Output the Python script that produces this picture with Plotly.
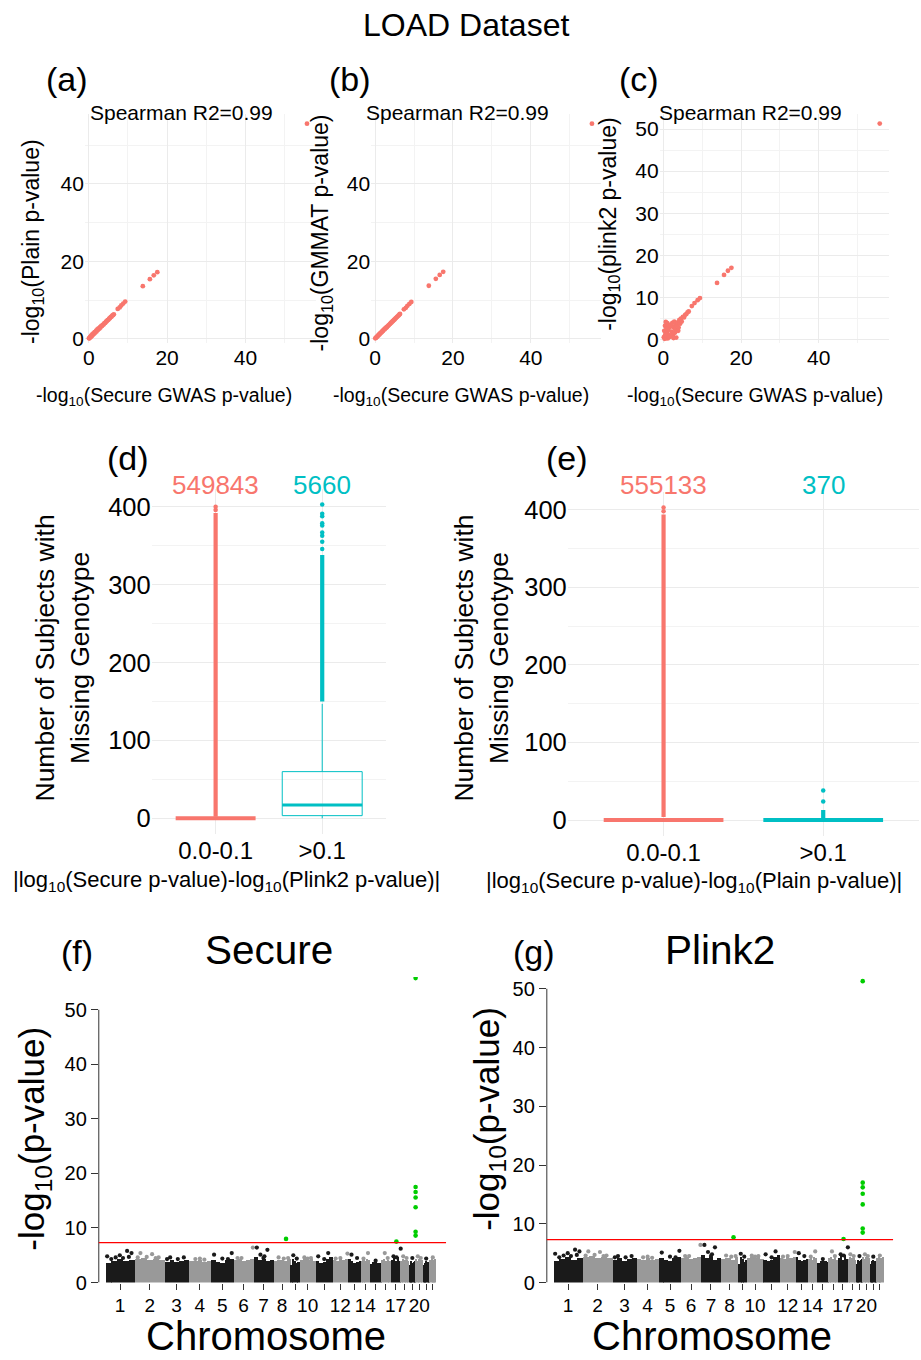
import numpy as np
import plotly.graph_objects as go

W, H = 921, 1360
FONT = "Liberation Sans"
RED = "#F8766D"
CYAN = "#00BFC4"
BLACKPT = "#1A1A1A"
GRAYPT = "#999999"
GREEN = "#00CD00"


def fx(px):
    return px / W


def fy(py):
    return 1 - py / H


# ---------------- (a)-(c) scatter data ----------------
secure_ab = [0.05, 0.2, 0.35, 0.5, 0.6, 0.8, 0.9, 1.1, 1.2, 1.4, 1.5, 1.7, 1.9, 2.0, 2.2, 2.4,
             2.5, 2.7, 2.9, 3.0, 3.2, 3.4, 3.6, 3.8, 4.0, 4.2, 4.4, 4.6, 4.8, 5.0, 5.2, 5.4,
             5.6, 5.8, 6.0, 6.2, 6.4, 7.4, 7.9, 8.3, 8.8, 9.3, 13.8, 15.6, 16.6, 17.5, 55.7]
plain_a = [0.1, 0.1, 0.5, 0.4, 0.8, 0.7, 1.1, 1.0, 1.4, 1.3, 1.7, 1.6, 2.1, 1.9, 2.4, 2.3,
           2.7, 2.6, 3.0, 2.9, 3.3, 3.3, 3.6, 3.7, 4.0, 4.1, 4.4, 4.5, 4.8, 4.9, 5.2, 5.3,
           5.6, 5.7, 6.0, 6.1, 6.3, 7.7, 8.1, 8.6, 9.1, 9.6, 13.6, 15.4, 16.4, 17.2, 55.6]
gmmat_b = [0.1, 0.2, 0.4, 0.5, 0.7, 0.8, 1.0, 1.1, 1.3, 1.4, 1.6, 1.7, 2.0, 2.0, 2.3, 2.4,
           2.6, 2.7, 2.9, 3.0, 3.2, 3.4, 3.6, 3.8, 4.0, 4.2, 4.4, 4.6, 4.8, 5.0, 5.2, 5.4,
           5.6, 5.8, 6.0, 6.2, 6.4, 7.6, 8.0, 8.5, 9.0, 9.5, 13.7, 15.5, 16.5, 17.3, 55.6]
secure_c = [0.1, 0.2, 0.3, 0.4, 0.5, 0.6, 0.7, 0.8, 0.9, 1.0, 1.1, 1.2, 1.3, 1.5, 1.6, 1.8,
            2.0, 2.1, 2.3, 2.5, 2.6, 2.8, 3.0, 3.2, 3.3, 3.5, 3.7, 3.9, 4.1, 4.3, 4.5, 4.7,
            5.0, 5.3, 5.6, 5.9, 6.2, 6.5, 0.6, 1.4, 2.2, 3.0, 3.8, 1.0, 2.6,
            7.3, 8.0, 8.8, 9.4, 13.8, 15.6, 16.6, 17.5, 55.7]
plink2_c = [0.5, 2.0, 0.1, 3.2, 1.2, 4.1, 0.3, 2.6, 1.6, 3.8, 0.2, 2.2, 3.4, 1.0, 2.8, 0.6,
            3.5, 1.8, 3.9, 1.2, 2.9, 4.2, 2.4, 3.6, 0.4, 3.3, 4.0, 2.8, 4.6, 3.7, 4.9, 4.2,
            5.3, 5.2, 5.8, 6.0, 6.4, 6.6, 1.0, 0.5, 0.8, 1.6, 2.0, 2.4, 0.3,
            7.9, 8.6, 9.3, 9.8, 13.4, 15.3, 16.3, 17.0, 51.3]
spearman_text = ["Spearman R2=0.99", "Spearman R2=0.99", "Spearman R2=0.99"]

# ---------------- (d)-(e) box data ----------------
categories = ["0.0-0.1", ">0.1"]
cat_pos = [1, 2]
box_width = 0.75
counts_d = [549843, 5660]
q1_d = [0, 3.5]
med_d = [0, 17]
q3_d = [0, 60]
lofence_d = [0, 0]
upfence_d = [0, 147]
dense_lo_d = [2, 150]
dense_hi_d = [392, 338]
sparse_d = [[396, 400], [346, 355, 363, 367, 376, 379, 388, 391, 403]]

counts_e = [555133, 370]
q1_e = [0, 0]
med_e = [0, 0]
q3_e = [0, 0]
lofence_e = [0, 0]
upfence_e = [0, 0]
dense_lo_e = [4, 1]
dense_hi_e = [394, 13]
sparse_e = [[398, 403], [24, 38]]

# ---------------- (f)-(g) Manhattan data ----------------
chrom = list(range(1, 23))
chrom_len = [256, 261, 209, 197, 195, 174, 174, 151, 76, 144, 145, 137, 110, 78, 102, 78,
             90, 73, 57, 64, 57, 58]
# upper envelope of the dense SNP cloud, 5 segments per chromosome
band_seg_top = [
    [3.6, 4.0, 4.3, 3.9, 4.2], [4.3, 4.5, 4.2, 4.4, 4.1], [3.8, 4.1, 3.7, 4.0, 4.2],
    [4.0, 3.9, 4.1, 3.8, 4.0], [4.2, 3.8, 3.6, 4.1, 4.4], [4.1, 4.3, 4.0, 4.2, 4.4],
    [4.6, 4.2, 4.4, 3.9, 4.1], [4.0, 4.2, 4.1, 3.9, 4.3], [3.2, 4.4, 4.0, 3.5, 3.8],
    [4.2, 4.4, 4.1, 4.3, 4.0], [3.9, 3.6, 3.8, 4.3, 4.6], [4.2, 4.0, 4.3, 4.1, 4.4],
    [4.3, 3.9, 3.6, 3.8, 4.0], [4.0, 4.2, 3.9, 4.4, 4.1], [3.4, 3.7, 3.8, 3.6, 3.5],
    [4.1, 4.4, 4.0, 4.2, 3.9], [4.2, 4.5, 3.9, 4.6, 4.0], [4.0, 4.3, 4.1, 4.2, 3.9],
    [3.2, 3.9, 3.6, 3.8, 4.0], [4.3, 4.0, 4.4, 4.1, 4.2], [3.2, 3.6, 3.9, 3.7, 3.4],
    [4.1, 4.3, 4.0, 4.2, 4.4]]
labeled_chrom = [1, 2, 3, 4, 5, 6, 7, 8, 10, 12, 14, 17, 20]
peak_chr = [1, 1, 1, 1, 1, 1, 1, 1, 2, 2, 2, 2, 2, 2, 3, 3, 3, 3, 4, 4, 4, 5, 5, 5, 5, 6, 6, 6,
            7, 7, 7, 7, 7, 8, 8, 8, 9, 9, 10, 10, 10, 11, 11, 11, 12, 12, 12, 13, 13, 14, 14,
            15, 16, 16, 17, 17, 17, 18, 18, 19, 20, 20, 21, 22]
peak_frac = [0.06, 0.2, 0.35, 0.49, 0.60, 0.74, 0.80, 0.89, 0.1, 0.19, 0.40, 0.58, 0.7, 0.80,
             0.1, 0.23, 0.55, 0.80, 0.3, 0.5, 0.7, 0.13, 0.5, 0.75, 0.92, 0.2, 0.4, 0.97,
             0.17, 0.35, 0.5, 0.55, 0.70, 0.3, 0.6, 0.85, 0.3, 0.7, 0.3, 0.5, 0.7, 0.14, 0.5,
             0.74, 0.2, 0.5, 0.95, 0.26, 0.7, 0.3, 0.8, 0.5, 0.37, 0.7, 0.3, 0.6, 1.0, 0.3,
             0.7, 0.5, 0.3, 0.7, 0.5, 0.5]
peak_secure = [4.8, 4.3, 4.6, 5.0, 4.5, 5.8, 4.7, 5.4, 4.6, 5.4, 4.7, 5.2, 4.5, 4.6, 4.3, 4.6,
               4.3, 4.6, 4.3, 4.4, 4.2, 5.1, 4.4, 4.3, 5.4, 4.5, 4.5, 6.4, 6.4, 5.1, 4.5, 4.8,
               6.0, 4.6, 4.4, 4.5, 5.0, 4.4, 4.6, 4.4, 4.5, 4.8, 4.3, 5.4, 4.4, 4.5, 5.3, 5.1,
               4.5, 4.4, 5.4, 4.0, 5.4, 4.5, 4.8, 4.6, 6.2, 4.8, 4.5, 4.5, 4.8, 4.5, 4.4, 4.6]
peak_plink2 = [4.9, 4.3, 4.6, 5.0, 4.5, 5.6, 4.7, 5.3, 4.6, 5.3, 4.7, 5.2, 4.5, 4.6, 4.3, 4.5,
               4.3, 4.5, 4.3, 4.4, 4.2, 5.1, 4.4, 4.3, 5.4, 4.5, 4.5, 6.4, 6.4, 5.2, 4.5, 4.8,
               6.0, 4.6, 4.4, 4.5, 4.9, 4.4, 4.6, 4.4, 4.5, 4.8, 4.3, 5.3, 4.4, 4.5, 5.2, 5.0,
               4.5, 4.4, 5.3, 4.0, 5.3, 4.5, 4.8, 4.6, 6.0, 4.8, 4.5, 4.5, 4.8, 4.5, 4.4, 4.6]
hl_chr = [8, 17, 19, 19, 19, 19, 19, 19, 19]
hl_frac = [0.73, 0.58, 1.0, 1.0, 1.0, 1.0, 1.0, 1.0, 1.0]
hl_secure = [8.0, 7.5, 55.8, 17.5, 16.6, 15.6, 13.8, 9.3, 8.6]
hl_plink2 = [7.7, 7.4, 51.3, 17.0, 16.2, 15.1, 13.3, 9.2, 8.5]
genomewide_line = 7.3
manh_yticks = [0, 10, 20, 30, 40, 50]

fig = go.Figure()

# ---- scatter panels
sc_data = [(secure_ab, plain_a), (secure_ab, gmmat_b), (secure_c, plink2_c)]
for i, (xs, ys) in enumerate(sc_data):
    n = "" if i == 0 else str(i + 1)
    fig.add_trace(go.Scatter(x=xs, y=ys, mode="markers",
                             marker=dict(color=RED, size=4.8, line=dict(width=0)),
                             xaxis="x" + n, yaxis="y" + n, showlegend=False))


# ---- box panels
def add_box_panel(n, q1, med, q3, lo, hi, dlo, dhi, sparse, flat_width):
    cols = [RED, CYAN]
    for k in range(2):
        flat = q1[k] == q3[k]
        fig.add_trace(go.Box(x=[cat_pos[k]], q1=[q1[k]], median=[med[k]], q3=[q3[k]],
                             lowerfence=[lo[k]], upperfence=[hi[k]], width=box_width,
                             whiskerwidth=0, boxpoints=False,
                             line=dict(color=cols[k], width=flat_width if flat else 1),
                             fillcolor="rgba(255,255,255,0)",
                             xaxis="x" + n, yaxis="y" + n, showlegend=False))
        if not flat:
            fig.add_trace(go.Scatter(x=[cat_pos[k] - box_width / 2, cat_pos[k] + box_width / 2],
                                     y=[med[k], med[k]], mode="lines",
                                     line=dict(color=cols[k], width=3),
                                     xaxis="x" + n, yaxis="y" + n, showlegend=False))
        fig.add_trace(go.Scatter(x=[cat_pos[k], cat_pos[k]], y=[dlo[k], dhi[k]], mode="lines",
                                 line=dict(color=cols[k], width=4.2),
                                 xaxis="x" + n, yaxis="y" + n, showlegend=False))
        fig.add_trace(go.Scatter(x=[cat_pos[k]] * len(sparse[k]), y=sparse[k], mode="markers",
                                 marker=dict(color=cols[k], size=4.5),
                                 xaxis="x" + n, yaxis="y" + n, showlegend=False))


add_box_panel("4", q1_d, med_d, q3_d, lofence_d, upfence_d, dense_lo_d, dense_hi_d, sparse_d, 4)
add_box_panel("5", q1_e, med_e, q3_e, lofence_e, upfence_e, dense_lo_e, dense_hi_e, sparse_e, 4)

# ---- Manhattan panels
lens = np.array(chrom_len, dtype=float)
starts = np.concatenate([[0.0], np.cumsum(lens)[:-1]])
centers = starts + lens / 2
total = lens.sum()
band_cols = [BLACKPT if c % 2 == 1 else GRAYPT for c in chrom]

seg_x, seg_w, seg_y, seg_c = [], [], [], []
for ci in range(len(chrom)):
    nseg = len(band_seg_top[ci])
    w = lens[ci] / nseg
    for si, h in enumerate(band_seg_top[ci]):
        seg_x.append(starts[ci] + (si + 0.5) * w)
        seg_w.append(w * 1.01)
        seg_y.append(h)
        seg_c.append(band_cols[ci])

pk_idx = np.array(peak_chr) - 1
pk_x = starts[pk_idx] + np.array(peak_frac) * lens[pk_idx]
pk_cols = [band_cols[i] for i in pk_idx]
hl_idx = np.array(hl_chr) - 1
hl_x = starts[hl_idx] + np.array(hl_frac) * lens[hl_idx]
lab_centers = [centers[c - 1] for c in labeled_chrom]
lab_text = [str(c) for c in labeled_chrom]

for n, pvals, hvals in [("6", peak_secure, hl_secure), ("7", peak_plink2, hl_plink2)]:
    fig.add_trace(go.Bar(x=seg_x, y=seg_y, width=seg_w, marker=dict(color=seg_c, line=dict(width=0)),
                         xaxis="x" + n, yaxis="y" + n, showlegend=False))
    fig.add_trace(go.Scatter(x=pk_x, y=pvals, mode="markers",
                             marker=dict(color=pk_cols, size=4.2, line=dict(width=0)),
                             xaxis="x" + n, yaxis="y" + n, showlegend=False))
    fig.add_trace(go.Scatter(x=hl_x, y=hvals, mode="markers",
                             marker=dict(color=GREEN, size=4.6, line=dict(width=0)),
                             xaxis="x" + n, yaxis="y" + n, showlegend=False))

# ---------------- layout ----------------
lay = dict(width=W, height=H, autosize=False, margin=dict(l=0, r=0, t=0, b=0), paper_bgcolor="white",
           plot_bgcolor="white", showlegend=False, font=dict(family=FONT, color="black"))

GRID = "#EBEBEB"
MINOR = "#F3F3F3"
tf_sc = dict(family=FONT, size=21, color="black")


def gg_axis(dom, rng, dtick, mdtick, anchor, tf, **kw):
    d = dict(domain=dom, range=rng, dtick=dtick, tick0=0, showgrid=True, gridcolor=GRID,
             gridwidth=1, zeroline=False, showline=False, ticks="", tickfont=tf, anchor=anchor,
             fixedrange=True)
    if mdtick:
        d["minor"] = dict(dtick=mdtick, tick0=0, showgrid=True, gridcolor=MINOR, gridwidth=1)
    d.update(kw)
    return d


sc_xdom = [(83, 314.7), (370, 600.2), (659, 888.6)]
sc_xrng = [[-1, 58], [-1, 58], [-1, 58]]
sc_yrng = [[-1, 58], [-1, 58], [-0.8, 53.5]]
sc_ydt = [20, 20, 10]
for i in range(3):
    n = "" if i == 0 else str(i + 1)
    lay["xaxis" + n] = gg_axis([fx(sc_xdom[i][0]), fx(sc_xdom[i][1])], sc_xrng[i], 20, 10,
                               "y" + n, tf_sc)
    lay["yaxis" + n] = gg_axis([fy(345.4), fy(115.3)], sc_yrng[i], sc_ydt[i], sc_ydt[i] / 2,
                               "x" + n, tf_sc)

tf_boxx = dict(family=FONT, size=24, color="black")
tf_boxy = dict(family=FONT, size=25.5, color="black")
lay["xaxis4"] = gg_axis([fx(150), fx(385)], [0.4, 2.6], None, None, "y4", tf_boxx,
                        tickmode="array", tickvals=cat_pos, ticktext=categories)
lay["yaxis4"] = gg_axis([fy(840.9), fy(492.9)], [-20.2, 423], 100, 50, "x4", tf_boxy)
lay["xaxis5"] = gg_axis([fx(567), fx(919)], [0.4, 2.6], None, None, "y5", tf_boxx,
                        tickmode="array", tickvals=cat_pos, ticktext=categories)
lay["yaxis5"] = gg_axis([fy(842.5), fy(495.9)], [-20.2, 423], 100, 50, "x5", tf_boxy)

tf_manx = dict(family=FONT, size=19, color="black")
tf_many = dict(family=FONT, size=20, color="black")
xr = [-0.02 * total, 1.03 * total]
man_xdom = [(97, 445), (546, 893)]
man_ytop = [np.ceil(max(hl_secure)), np.ceil(max(hl_plink2))]
for j, n in enumerate(["6", "7"]):
    lay["xaxis" + n] = dict(domain=[fx(man_xdom[j][0]), fx(man_xdom[j][1])], range=xr, anchor="y" + n,
                            showgrid=False, zeroline=False, showline=False, ticks="outside",
                            ticklen=6, tickcolor="#333333", tickwidth=1, tickmode="array",
                            tickvals=lab_centers, ticktext=lab_text, tickangle=0, tickfont=tf_manx,
                            minor=dict(tickmode="array", tickvals=list(centers), ticks="outside",
                                       ticklen=6, tickcolor="#333333", tickwidth=1, showgrid=False),
                            fixedrange=True)
    lay["yaxis" + n] = dict(domain=[fy(1293), fy(985)], range=[0, man_ytop[j]], anchor="x" + n,
                            showgrid=False, zeroline=False, showline=False, ticks="outside",
                            ticklen=7, tickcolor="#333333", tickwidth=1, tickmode="array",
                            tickvals=manh_yticks, tickfont=tf_many, fixedrange=True)
fig.update_layout(**lay)
fig.update_layout(barmode="overlay", bargap=0)

shapes = []
for n in ["6", "7"]:
    shapes.append(dict(type="line", xref="x" + n + " domain", yref="y" + n, x0=0, x1=0,
                       y0=min(manh_yticks), y1=max(manh_yticks), line=dict(color="#333333", width=1)))
    shapes.append(dict(type="line", xref="x" + n + " domain", yref="y" + n, x0=0, x1=1,
                       y0=genomewide_line, y1=genomewide_line, line=dict(color="#FF0000", width=1.2)))
fig.update_layout(shapes=shapes)

ann = []


def text(px, py, s, size, angle=0, color="black", xref="paper", xval=None):
    ann.append(dict(x=fx(px) if xval is None else xval, y=fy(py), xref=xref, yref="paper", text=s,
                    showarrow=False, textangle=angle, xanchor="center", yanchor="middle",
                    font=dict(family=FONT, size=size, color=color)))


text(465, 25, "LOAD Dataset", 32)
for lbl, x in [("(a)", 65), ("(b)", 349), ("(c)", 638)]:
    text(x, 80, lbl, 34)
for x, s in zip([180, 456, 750], spearman_text):
    text(x, 113, s, 21)
for x in [162, 460, 755]:
    text(x, 400, "-log<sub>10</sub>(Secure GWAS p-value)", 19.5)
text(30, 243, "-log<sub>10</sub>(Plain p-value)", 23, -90)
text(320, 235, "-log<sub>10</sub>(GMMAT p-value)", 23, -90)
text(608, 226, "-log<sub>10</sub>(plink2 p-value)", 23, -90)

text(126, 462, "(d)", 34)
text(566, 462, "(e)", 34)
cols2 = [RED, CYAN]
for k in range(2):
    text(0, 489, str(counts_d[k]), 26, color=cols2[k], xref="x4", xval=cat_pos[k])
    text(0, 489, str(counts_e[k]), 26, color=cols2[k], xref="x5", xval=cat_pos[k])
text(60, 663, "Number of Subjects with<br>Missing Genotype", 26.5, -90)
text(480, 663, "Number of Subjects with<br>Missing Genotype", 26.5, -90)
text(225, 888, "|log<sub>10</sub>(Secure p-value)-log<sub>10</sub>(Plink2 p-value)|", 22)
text(694, 889, "|log<sub>10</sub>(Secure p-value)-log<sub>10</sub>(Plain p-value)|", 22)

text(75, 960, "(f)", 34)
text(533, 960, "(g)", 34)
text(268, 958, "Secure", 40.5)
text(720, 958, "Plink2", 40.5)
text(265, 1347, "Chromosome", 40)
text(712, 1347, "Chromosome", 40)
text(32, 1148, "-log<sub>10</sub>(p-value)", 35, -90)
text(488, 1128, "-log<sub>10</sub>(p-value)", 35, -90)
fig.update_layout(annotations=ann)

css = ("var s=document.createElement('style');"
       "s.innerHTML='html,body{margin:0;padding:0;overflow:hidden;width:921px;height:1360px;}';"
       "document.head.appendChild(s);")
fig.write_html("out.html", config={"displayModeBar": False, "responsive": False},
               post_script=css)
